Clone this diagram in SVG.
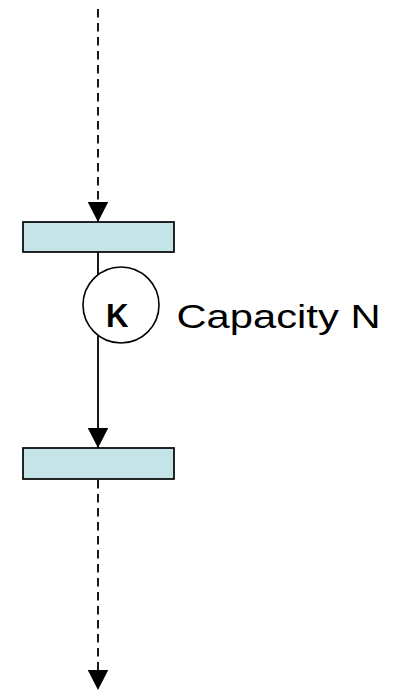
<svg xmlns="http://www.w3.org/2000/svg" width="398" height="692" viewBox="0 0 398 692">
<defs>
<style>
.box{fill:#C5E4E7;stroke:#000;stroke-width:1.7}
.edge{stroke:#000;stroke-width:1.8;fill:none}
.dash{stroke-dasharray:8.5 5.5}
.txt{font-family:"Liberation Sans",Arial,sans-serif;fill:#000}
</style>
<marker id="ah" markerUnits="userSpaceOnUse" markerWidth="21" markerHeight="21" refX="20.5" refY="10.5" orient="auto" viewBox="0 0 21 21">
<path d="M0,0 L20.5,10.5 L0,21 Z" fill="#000"/>
</marker>
</defs>
<rect width="398" height="692" fill="#fff"/>
<g id="connectors">
<line class="edge dash" x1="98" y1="9" x2="98" y2="222" marker-end="url(#ah)"/>
<line class="edge" x1="98" y1="252" x2="98" y2="448" marker-end="url(#ah)"/>
<line class="edge dash" x1="98" y1="480" x2="98" y2="690" marker-end="url(#ah)"/>
</g>
<g id="top-bar"><rect class="box" x="23" y="222" width="151" height="30"/></g>
<g id="bottom-bar"><rect class="box" x="23" y="448" width="151" height="31"/></g>
<g id="k-node">
<circle cx="121" cy="305" r="38" fill="#fff" stroke="#000" stroke-width="1.6"/>
<text class="txt" x="106" y="326.5" font-size="34" font-weight="bold" textLength="22.5" lengthAdjust="spacingAndGlyphs">K</text>
</g>
<g id="capacity-label">
<text class="txt" x="176.5" y="327.5" font-size="34" textLength="204" lengthAdjust="spacingAndGlyphs">Capacity N</text>
</g>
</svg>
